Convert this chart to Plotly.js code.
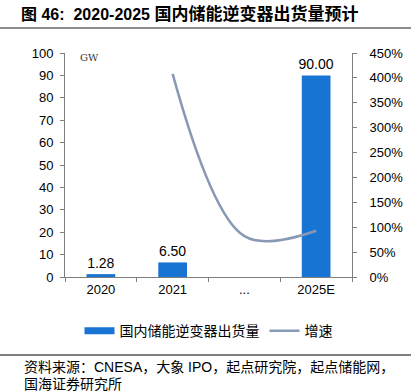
<!DOCTYPE html>
<html>
<head>
<meta charset="utf-8">
<script src="https://cdn.plot.ly/plotly-3.0.1.min.js"></script>
<style>html,body{margin:0;padding:0;background:#fff;}#chart{width:411px;height:391px;}</style>
</head>
<body>
<div id="chart"></div>
<script>
const categories = ['2020', '2021', '...', '2025E'];
const shipments = [1.28, 6.50, null, 90.00];
const growthCats = ['2021', '...', '2025E'];
const growth = [4.08, 0.82, 0.93];
const barName = '国内储能逆变器出货量';
const lineName = '增速';
const titleHead = '图 46:  2020-2025 ';
const titleTail = '国内储能逆变器出货量预计';
const sourceLine1 = '资料来源：CNESA，大象 IPO，起点研究院，起点储能网，';
const sourceLine2 = '国海证券研究所';

const latin = 'Arial, "Liberation Sans", "Noto Sans CJK SC", sans-serif';
const cjk = '"Noto Sans CJK SC", Arial, sans-serif';
const barColor = '#1874D2';

const traces = [
  {
    type: 'bar', x: categories, y: shipments, name: barName, showlegend: false,
    marker: {color: barColor}, width: 0.4,
    text: shipments.map(v => v == null ? '' : v.toFixed(2)),
    textposition: 'outside', constraintext: 'none',
    textfont: {family: latin, size: 14, color: '#000'},
    cliponaxis: false, hoverinfo: 'skip'
  },
  {
    type: 'scatter', mode: 'lines', x: growthCats, y: growth, name: lineName, yaxis: 'y2',
    line: {color: '#8799B5', width: 2.5, shape: 'spline', smoothing: 1},
    showlegend: false, hoverinfo: 'skip'
  },
  // legend-only entries (styled like the reference legend keys)
  {
    type: 'scatter', mode: 'lines', x: [null], y: [null], name: barName,
    line: {color: barColor, width: 7}, hoverinfo: 'skip'
  },
  {
    type: 'scatter', mode: 'lines', x: [null], y: [null], name: lineName, yaxis: 'y2',
    line: {color: '#8799B5', width: 2.5}, hoverinfo: 'skip'
  }
];

const layout = {
  width: 411, height: 391,
  margin: {l: 65, r: 59, t: 53, b: 114},
  paper_bgcolor: '#fff', plot_bgcolor: '#fff',
  showlegend: true,
  xaxis: {
    type: 'category', categoryarray: categories,
    showline: true, linecolor: '#7f7f7f', linewidth: 1,
    ticks: 'outside', tickson: 'boundaries', ticklen: 4, tickcolor: '#7f7f7f',
    tickfont: {family: latin, size: 13, color: '#000'},
    showgrid: false, zeroline: false, fixedrange: true
  },
  yaxis: {
    range: [0, 100], dtick: 10, showline: true, linecolor: '#7f7f7f', linewidth: 1,
    ticks: 'outside', ticklen: 4, tickcolor: '#7f7f7f',
    tickfont: {family: latin, size: 13, color: '#000'},
    showgrid: false, zeroline: false, ticklabelstandoff: 4
  },
  yaxis2: {
    overlaying: 'y', side: 'right', range: [0, 4.5], dtick: 0.5, tickformat: '.0%',
    showline: true, linecolor: '#7f7f7f', linewidth: 1,
    ticks: 'outside', ticklen: 4, tickcolor: '#7f7f7f',
    tickfont: {family: latin, size: 13, color: '#000'},
    showgrid: false, zeroline: false, ticklabelstandoff: 10
  },
  legend: {
    orientation: 'h', x: 0.5, xanchor: 'center', y: -0.17, yanchor: 'top',
    font: {family: cjk, size: 14, color: '#000'}, tracegroupgap: 0
  },
  annotations: [
    {xref: 'paper', yref: 'paper', x: (19-65)/287, y: (277-14)/224, xanchor: 'left', yanchor: 'middle',
     text: '<b>' + titleHead + '<span style="font-size:17px">' + titleTail + '</span></b>',
     showarrow: false, font: {family: latin, size: 16, color: '#000'}},
    {xref: 'paper', yref: 'paper', x: 0.045, y: (277-57)/224, xanchor: 'left', yanchor: 'middle',
     text: 'GW', showarrow: false, font: {family: '"DejaVu Serif", serif', size: 10, color: '#333'}},
    {xref: 'paper', yref: 'paper', x: (22-65)/287, y: (277-367)/224, xanchor: 'left', yanchor: 'middle',
     text: sourceLine1, showarrow: false, font: {family: latin, size: 14, color: '#000'}},
    {xref: 'paper', yref: 'paper', x: (22-65)/287, y: (277-384)/224, xanchor: 'left', yanchor: 'middle',
     text: sourceLine2, showarrow: false, font: {family: latin, size: 14, color: '#000'}}
  ],
  shapes: [
    {type: 'line', xref: 'paper', yref: 'paper', x0: -0.23, x1: 1.21, y0: (277-28)/224, y1: (277-28)/224,
     line: {color: '#8c8c8c', width: 2}},
    {type: 'line', xref: 'paper', yref: 'paper', x0: -0.23, x1: 1.21, y0: (277-355)/224, y1: (277-355)/224,
     line: {color: '#555', width: 1.5}}
  ]
};

Plotly.newPlot('chart', traces, layout, {staticPlot: true, displayModeBar: false});
</script>
</body>
</html>
